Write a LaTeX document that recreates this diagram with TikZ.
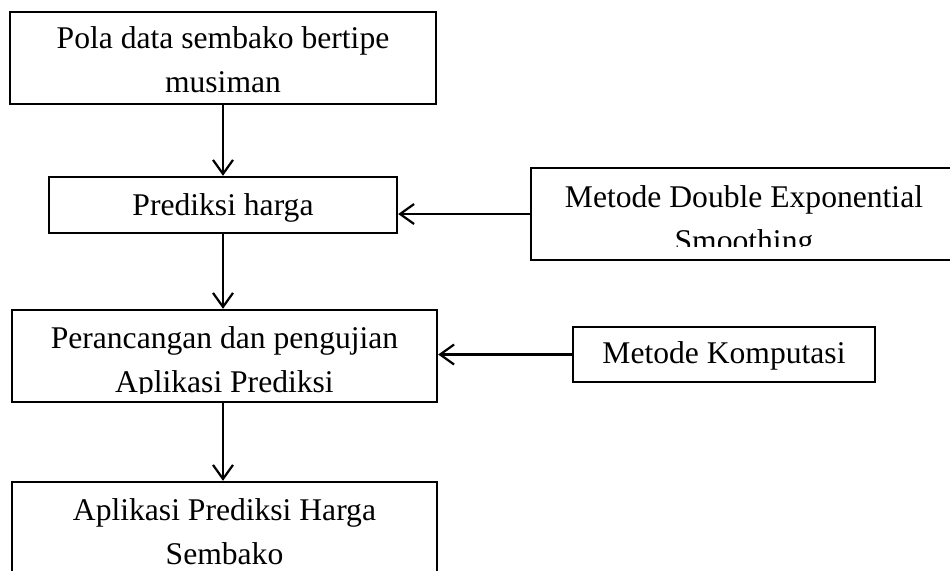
\documentclass[tikz,border=0pt]{standalone}
\usepackage{fontspec}
\setmainfont{Liberation Serif}
\usetikzlibrary{arrows.meta,positioning}

\begin{document}
\begin{tikzpicture}[x=0.5pt,y=-0.5pt,
	box/.style={draw,line width=1.2pt,inner sep=0pt},
	txt/.style={anchor=base,inner sep=0pt,align=center,font=\fontsize{15.8}{22}\selectfont},
	flow/.style={line width=1.1pt,-{Straight Barb[length=7pt,width=10pt]}}]
		% The page
		\clip (0,0) rectangle (950,570);
		
		% The boxes
		\node[box,minimum width=213pt,minimum height=46pt] (pola) at (223,58) {};
		\node[box,minimum width=174pt,minimum height=28pt] (prediksi) at (223,205) {};
		\node[box,minimum width=213pt,minimum height=46pt] (des) at (744,214) {};
		\node[box,minimum width=212.5pt,minimum height=46pt] (rancang) at (224.5,356) {};
		\node[box,minimum width=151pt,minimum height=27.5pt] (komputasi) at (724,354.5) {};
		\node[box,minimum width=212.5pt,minimum height=46pt] (aplikasi) at (224.5,528) {};
		
		% The texts (base is the last line), cut off at the bottom as in the original
		\node[txt] (pola-t) at ([yshift=-41pt]pola.north) {Pola data sembako bertipe\\musiman};
		\node[txt] (prediksi-t) at ([yshift=-20pt]prediksi.north) {Prediksi harga};
		\begin{scope}
			\clip (des.north west) rectangle ([yshift=-40pt]des.north east);
			\node[txt] (des-t) at ([yshift=-42.5pt]des.north) {Metode Double Exponential\\Smoothing};
		\end{scope}
		\begin{scope}
			\clip (rancang.north west) rectangle ([yshift=-42.5pt]rancang.north east);
			\node[txt] (rancang-t) at ([yshift=-42pt]rancang.north) {Perancangan dan pengujian\\Aplikasi Prediksi};
		\end{scope}
		\node[txt] (komputasi-t) at ([yshift=-19pt]komputasi.north) {Metode Komputasi};
		\node[txt] (aplikasi-t) at ([yshift=-42pt]aplikasi.north) {Aplikasi Prediksi Harga\\Sembako};
		
		% The arrows
		\draw[flow] (pola) -- (prediksi);
		\draw[flow] (des.west) -- (des.west -| prediksi.east);
		\draw[flow] (prediksi.south) -- (prediksi.south |- rancang.north);
		\draw[flow] (komputasi.west) -- (komputasi.west -| rancang.east);
		\draw[flow] (rancang.south -| prediksi.south) -- (prediksi.south |- aplikasi.north);
\end{tikzpicture}
\end{document}
